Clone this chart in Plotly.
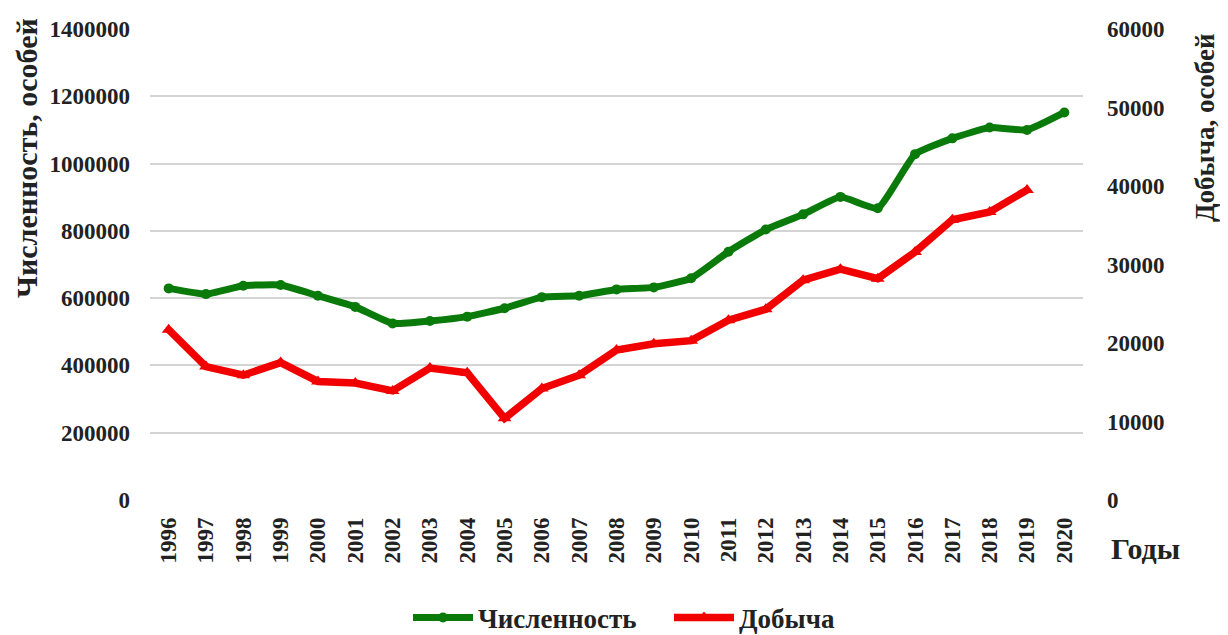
import plotly.graph_objects as go

years = [str(y) for y in range(1996, 2021)]
population = [629000, 612000, 637000, 639000, 607000, 574000, 525000, 532000, 545000,
              570000, 603000, 607000, 626000, 632000, 659000, 738000, 804000, 849000,
              901000, 867000, 1028000, 1075000, 1107000, 1100000, 1152000]
harvest = [21700, 17000, 15900, 17500, 15100, 14900, 13900, 16800, 16200,
           10400, 14200, 15900, 19100, 19900, 20300, 22900, 24300, 28000,
           29400, 28200, 31600, 35700, 36700, 39500]

FONT = "Liberation Serif"
GREEN = "#0a7a0a"
RED = "#f20000"
TXT = "#222222"

OFF = 8  # page body margin
W, H = 1228 - OFF, 635 - OFF
L, T = 150 - OFF, 29 - OFF
R = W - (1083 - OFF)
B = H - (500 - OFF)

fig = go.Figure()
fig.add_trace(go.Scatter(
    x=years, y=population, name="Численность", mode="lines+markers",
    line=dict(color=GREEN, width=7, shape="spline", smoothing=0.4),
    marker=dict(symbol="circle", size=10, color=GREEN),
    yaxis="y"))
fig.add_trace(go.Scatter(
    x=years[:len(harvest)], y=harvest, name="Добыча", mode="lines+markers",
    line=dict(color=RED, width=7.5),
    marker=dict(symbol="triangle-up", size=12, color=RED),
    yaxis="y2"))

tickfont = dict(family=FONT, size=23, color=TXT, weight="bold")

fig.update_layout(
    width=W, height=H,
    margin=dict(l=L, r=R, t=T, b=B, autoexpand=False),
    paper_bgcolor="white", plot_bgcolor="white",
    font=dict(family=FONT, size=21, color=TXT),
    showlegend=True,
    legend=dict(orientation="h", x=(408 - OFF) / W, xanchor="left", xref="container",
                y=(H - (618 - OFF)) / H, yanchor="middle", yref="container",
                font=dict(family=FONT, size=27, color=TXT, weight="bold"),
                itemwidth=60, tracegroupgap=0,
                entrywidth=186, entrywidthmode="pixels"),
    xaxis=dict(type="category", tickangle=-90, showgrid=False, zeroline=False,
               showline=False, ticks="", range=[-0.5, 24.5], automargin=False,
               ticklabelstandoff=12, tickfont=tickfont),
    yaxis=dict(range=[0, 1400000], dtick=200000, showgrid=True, gridcolor="#d4d4d4",
               gridwidth=2, zeroline=False, showline=False, ticks="",
               tickformat="d", automargin=False, ticklabelstandoff=19,
               tickfont=tickfont),
    yaxis2=dict(range=[0, 60000], dtick=10000, overlaying="y", side="right",
                showgrid=False, zeroline=False, showline=False, ticks="",
                tickformat="d", automargin=False, ticklabelstandoff=23,
                tickfont=tickfont),
)

pw = W - L - R
ph = H - T - B


def pix_ann(text, px, py, size, angle=0):
    px -= OFF
    py -= OFF
    return dict(text=text, textangle=angle, xref="paper", yref="paper",
                x=(px - L) / pw, y=1 - (py - T) / ph, xanchor="center",
                yanchor="middle", showarrow=False,
                font=dict(family=FONT, size=size, color=TXT, weight="bold"))


fig.update_layout(annotations=[
    pix_ann("Численность, особей", 27, 158, 30, -90),
    pix_ann("Добыча, особей", 1205, 128, 27, -90),
    pix_ann("Годы", 1145, 548, 30),
])

fig.write_html("out.html")
